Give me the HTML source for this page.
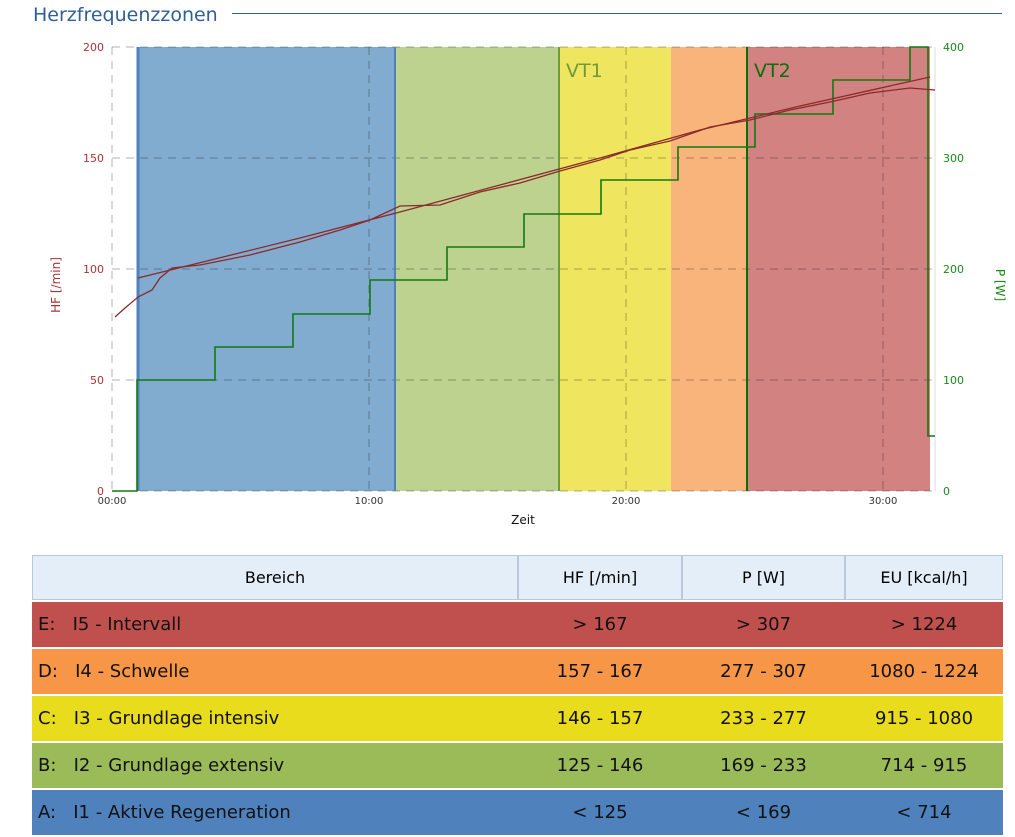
<!DOCTYPE html>
<html><head><meta charset="utf-8"><style>
body{margin:0;width:1015px;height:831px;background:#fff;font-family:"DejaVu Sans","Liberation Sans",sans-serif;overflow:hidden;position:relative}
.t{position:absolute;left:33px;top:4px;font-size:19px;color:#2f5f96}
.hl{position:absolute;left:232px;top:13px;width:770px;height:1px;background:#2f5f96}
table{position:absolute;left:32px;top:553px;width:971px;border-collapse:separate;border-spacing:0 2px;font-size:18px}
td,th{height:45px;padding:0}
th{background:#e3eef9;font-weight:normal;font-size:16px;border:1px solid #b8c9dc;height:43px}
td{text-align:center;color:#111}
td.l{text-align:left;padding-left:6px}
</style></head><body>
<div class="t">Herzfrequenzzonen</div><div class="hl"></div>
<svg width="1015" height="540" style="position:absolute;left:0;top:0" font-family="DejaVu Sans,Liberation Sans,sans-serif">
<rect x="137" y="47" width="258" height="444" fill="#82abd0"/>
<rect x="395" y="47" width="164" height="444" fill="#bcd28e"/>
<rect x="559" y="47" width="112" height="444" fill="#efe55e"/>
<rect x="671" y="47" width="76" height="444" fill="#f9b47c"/>
<rect x="747" y="47" width="183" height="444" fill="#d38282"/>
<g stroke="#000" stroke-opacity="0.3" stroke-dasharray="8,6" fill="none">
<line x1="112" y1="158" x2="935" y2="158"/><line x1="112" y1="269" x2="935" y2="269"/><line x1="112" y1="380" x2="935" y2="380"/>
<line x1="112" y1="47" x2="935" y2="47"/><line x1="112" y1="491" x2="935" y2="491"/>
<line x1="369" y1="47" x2="369" y2="491"/><line x1="626" y1="47" x2="626" y2="491"/><line x1="883" y1="47" x2="883" y2="491"/>
<line x1="112" y1="47" x2="112" y2="491"/>
</g>
<line x1="935" y1="47" x2="935" y2="491" stroke="#ddd"/>
<line x1="138" y1="47" x2="138" y2="491" stroke="#4f81bd" stroke-width="3"/>
<line x1="395" y1="47" x2="395" y2="491" stroke="#4f81bd" stroke-width="2"/>
<line x1="559" y1="47" x2="559" y2="491" stroke="#6f9a3a" stroke-width="2"/>
<line x1="747" y1="47" x2="747" y2="491" stroke="#0a6e0a" stroke-width="2"/>
<text x="566" y="77" font-size="19" fill="#6f9a3a">VT1</text>
<text x="754" y="77" font-size="19" fill="#0a6e0a">VT2</text>
<polyline fill="none" stroke="#117a11" stroke-width="1.6" points="112,491 137,491 137,380 215,380 215,347 293,347 293,314 370,314 370,280 447,280 447,247 524,247 524,214 601,214 601,180 678,180 678,147 755,147 755,114 833,114 833,80 910,80 910,47 928,47 928,436 935,436"/>
<polyline fill="none" stroke="#8b2a2a" stroke-width="1.3" points="115,317 125,308 138,297 152,290 160,278 172,268 200,265 250,255 300,242 340,230 370,220 400,206 440,205 480,192 520,183 560,171 600,160 630,150 670,141 710,127 750,120 790,110 830,102 870,93 910,88 935,90"/>
<polyline fill="none" stroke="#8b2a2a" stroke-width="1.3" points="138,278 300,238 400,212 500,185 600,158 700,130 800,106 930,77"/>
<g font-size="11" fill="#a33" text-anchor="end"><text x="104" y="51">200</text><text x="104" y="162">150</text><text x="104" y="273">100</text><text x="104" y="384">50</text><text x="104" y="495">0</text></g>
<g font-size="11" fill="#1a8a1a"><text x="943" y="51">400</text><text x="943" y="162">300</text><text x="943" y="273">200</text><text x="943" y="384">100</text><text x="943" y="495">0</text></g>
<g font-size="10" fill="#333" text-anchor="middle"><text x="112" y="504">00:00</text><text x="369" y="504">10:00</text><text x="626" y="504">20:00</text><text x="883" y="504">30:00</text></g>
<text x="523" y="524" font-size="12" text-anchor="middle" fill="#111">Zeit</text>
<text transform="translate(60,285) rotate(-90)" font-size="12" fill="#a33" text-anchor="middle">HF [/min]</text>
<text transform="translate(996,285) rotate(90)" font-size="12" fill="#1a8a1a" text-anchor="middle">P [W]</text>
</svg>
<table>
<tr><th style="width:484px">Bereich</th><th style="width:162px">HF [/min]</th><th style="width:161px">P [W]</th><th>EU [kcal/h]</th></tr>
<tr style="background:#c0504d"><td class="l">E:&nbsp;&nbsp;&nbsp;I5 - Intervall</td><td>&gt; 167</td><td>&gt; 307</td><td>&gt; 1224</td></tr>
<tr style="background:#f79646"><td class="l">D:&nbsp;&nbsp;&nbsp;I4 - Schwelle</td><td>157 - 167</td><td>277 - 307</td><td>1080 - 1224</td></tr>
<tr style="background:#e8dc1c"><td class="l">C:&nbsp;&nbsp;&nbsp;I3 - Grundlage intensiv</td><td>146 - 157</td><td>233 - 277</td><td>915 - 1080</td></tr>
<tr style="background:#9bbb59"><td class="l">B:&nbsp;&nbsp;&nbsp;I2 - Grundlage extensiv</td><td>125 - 146</td><td>169 - 233</td><td>714 - 915</td></tr>
<tr style="background:#4f81bd"><td class="l">A:&nbsp;&nbsp;&nbsp;I1 - Aktive Regeneration</td><td>&lt; 125</td><td>&lt; 169</td><td>&lt; 714</td></tr>
</table>
</body></html>
